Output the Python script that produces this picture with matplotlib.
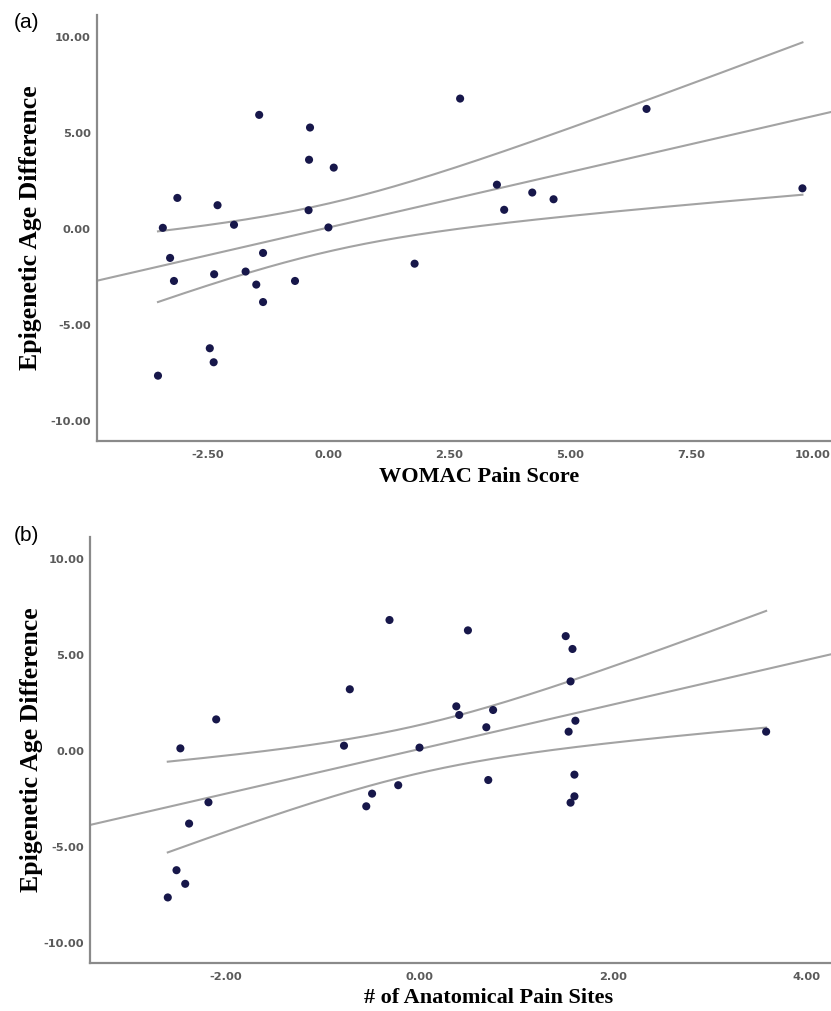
import numpy as np
import matplotlib
matplotlib.use("Agg")
import matplotlib.pyplot as plt

# panel (a): WOMAC pain score vs epigenetic age difference
womac_x = [-3.42, -3.12, -2.29, -1.95, -1.43, -0.38, -0.40, 0.11, -0.41, 0.00,
           -3.27, -3.19, -2.36, -1.71, -1.35, -1.49, -1.35, -0.69, -2.45, -2.37,
           -3.52, 1.78, 2.72, 6.57, 3.48, 4.21, 4.65, 3.63, 9.79]
womac_y = [0.05, 1.61, 1.23, 0.21, 5.94, 5.28, 3.60, 3.19, 0.97, 0.07,
           -1.52, -2.72, -2.37, -2.23, -1.26, -2.91, -3.82, -2.72, -6.23, -6.96,
           -7.66, -1.82, 6.79, 6.25, 2.30, 1.89, 1.54, 0.99, 2.11]

# panel (b): number of anatomical pain sites vs epigenetic age difference
sites_x = [-2.47, -2.10, -0.31, -0.72, -0.78, 0.50, 1.51, 1.58, 1.56, 0.38,
           0.41, 0.76, 0.69, 1.61, 1.54, 3.58, 0.00, -2.18, -2.38, -2.51,
           -2.42, -2.60, -0.49, -0.55, -0.22, 0.71, 1.60, 1.60, 1.56]
sites_y = [0.12, 1.63, 6.81, 3.20, 0.26, 6.27, 5.97, 5.30, 3.61, 2.31,
           1.86, 2.12, 1.22, 1.56, 0.99, 0.99, 0.16, -2.69, -3.80, -6.23,
           -6.94, -7.65, -2.24, -2.90, -1.80, -1.53, -1.25, -2.38, -2.71]

y_ticks = [-10, -5, 0, 5, 10]
a_xticks = [-2.5, 0, 2.5, 5, 7.5, 10]
b_xticks = [-2, 0, 2, 4]

DOT = '#17174a'
LINE = '#a3a3a3'
SPINE = '#8a8a8a'
TICKC = '#5a5a5a'
T975 = 2.052  # t critical, df = 27


def fit_ci(x, y, xs):
    x = np.asarray(x); y = np.asarray(y)
    n = len(x)
    b1, b0 = np.polyfit(x, y, 1)
    resid = y - (b0 + b1 * x)
    s = np.sqrt(np.sum(resid ** 2) / (n - 2))
    sxx = np.sum((x - x.mean()) ** 2)
    se = s * np.sqrt(1.0 / n + (xs - x.mean()) ** 2 / sxx)
    fit = b0 + b1 * xs
    return b0, b1, fit - T975 * se, fit + T975 * se


def panel(ax, x, y, xlim, xticks, xlabel, xlab_pos, ylab_x):
    b0, b1, _, _ = fit_ci(x, y, np.array([0.0]))
    xl = np.array(xlim)
    ax.plot(xl, b0 + b1 * xl, color=LINE, lw=1.5, zorder=1)
    xs = np.linspace(min(x), max(x), 200)
    _, _, lo, hi = fit_ci(x, y, xs)
    ax.plot(xs, lo, color=LINE, lw=1.5, zorder=1)
    ax.plot(xs, hi, color=LINE, lw=1.5, zorder=1)
    ax.scatter(x, y, s=34, color=DOT, edgecolors='none', zorder=3)
    ax.set_xlim(*xlim)
    ax.set_ylim(-11.05, 11.15)
    ax.set_xticks(xticks)
    ax.set_xticklabels(['%.2f' % v for v in xticks])
    ax.set_yticks(y_ticks)
    ax.set_yticklabels(['%.2f' % v for v in y_ticks])
    for sp in ['top', 'right']:
        ax.spines[sp].set_visible(False)
    for sp in ['left', 'bottom']:
        ax.spines[sp].set_color(SPINE)
        ax.spines[sp].set_linewidth(1.6)
    ax.tick_params(length=0, labelsize=8.2, labelcolor=TICKC)
    ax.tick_params(axis='x', pad=7)
    ax.tick_params(axis='y', pad=4.5)
    for lab in ax.get_xticklabels() + ax.get_yticklabels():
        lab.set_fontweight('bold')
    ax.set_xlabel(xlabel, family='Liberation Serif', fontweight='bold',
                  fontsize=16, va='center')
    ax.xaxis.set_label_coords(*xlab_pos)
    ax.set_ylabel('Epigenetic Age Difference', family='Liberation Serif',
                  fontweight='bold', fontsize=18.5, va='center')
    ax.yaxis.set_label_coords(ylab_x, 0.5)


fig = plt.figure(figsize=(8.31, 10.11), dpi=100)
ax1 = fig.add_axes([0.1167, 0.5641, 0.8833, 0.4211])
ax2 = fig.add_axes([0.1087, 0.0478, 0.8913, 0.4213])

panel(ax1, womac_x, womac_y, (-4.78, 10.38), a_xticks, 'WOMAC Pain Score',
      (0.5204, -0.0853), -0.0899)
panel(ax2, sites_x, sites_y, (-3.40, 4.25), b_xticks, '# of Anatomical Pain Sites',
      (0.538, -0.0829), -0.080)

fig.text(0.016, 0.978, '(a)', family='Liberation Sans', fontsize=15, va='center')
fig.text(0.016, 0.470, '(b)', family='Liberation Sans', fontsize=15, va='center')

fig.savefig('out.png', dpi=100)
